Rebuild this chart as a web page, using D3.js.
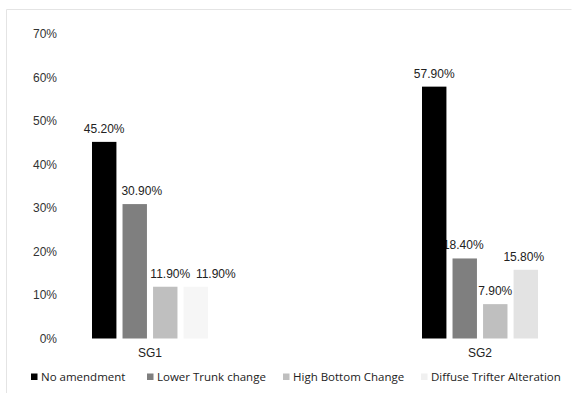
<!DOCTYPE html>
<html>
<head>
<meta charset="utf-8">
<script src="https://cdn.jsdelivr.net/npm/d3@7"></script>
<style>
  body { margin: 0; background: #fff; }
  svg { display: block; }
</style>
</head>
<body>
<svg id="chart"></svg>
<script>
// data
var groups = ["SG1", "SG2"];
var seriesNames = ["No amendment", "Lower Trunk change", "High Bottom Change", "Diffuse Trifter Alteration"];
var sg1Values = [0.452, 0.309, 0.119, 0.119];
var sg2Values = [0.579, 0.184, 0.079, 0.158];
var yTicks = [0, 0.1, 0.2, 0.3, 0.4, 0.5, 0.6, 0.7];

// styling
var colors = ["#000000", "#7f7f7f", "#bfbfbf", "#f6f6f6"];
var lastColorSG2 = "#e3e3e3";
// label nudges so that value labels don't collide (px, per group)
var labelDxSG1 = [0, 7, 5, 20];
var labelDxSG2 = [0, -1.5, 0, -2];

var w = 572, h = 393;
var svg = d3.select("#chart").attr("width", w).attr("height", h);

// light frame of the chart
svg.append("path")
  .attr("d", "M6.5,393 L6.5,9.5 L571.5,9.5")
  .attr("fill", "none")
  .attr("stroke", "#e4e4e4")
  .attr("stroke-width", 1);

var yScale = d3.scaleLinear()
  .domain([0, 0.7])
  .range([338.5, 34]);

var xScale = d3.scaleBand()
  .domain(groups)
  .range([92, 538])
  .paddingInner(0.6485)
  .paddingOuter(0);

var xInner = d3.scaleBand()
  .domain(d3.range(seriesNames.length))
  .range([0, xScale.bandwidth()])
  .paddingInner(0.2)
  .paddingOuter(0);

var yAxis = d3.axisLeft(yScale)
  .tickValues(yTicks)
  .tickFormat(d3.format(".0%"))
  .tickSize(0)
  .tickPadding(0);

var yg = svg.append("g")
  .attr("transform", "translate(57,0)")
  .call(yAxis);
yg.select(".domain").remove();
yg.selectAll("text")
  .attr("font-family", "Liberation Sans, Arial, sans-serif")
  .attr("font-size", "12px")
  .attr("fill", "#333");

var rows = [
  { group: "SG1", values: sg1Values, dx: labelDxSG1 },
  { group: "SG2", values: sg2Values, dx: labelDxSG2 }
];

var barData = [];
rows.forEach(function(r) {
  r.values.forEach(function(v, i) {
    barData.push({ group: r.group, i: i, value: v, dx: r.dx[i] });
  });
});

var fillFor = function(d) {
  if (d.group == "SG2" && d.i == 3) { return lastColorSG2; }
  return colors[d.i];
};

var barLand = svg.append("g").classed("barLand", true);

// labels first, bars on top (the SG2 black bar clips the "1" of 18.40% like the original)
barLand.selectAll("text")
  .data(barData)
  .enter()
  .append("text")
  .attr("x", function(d) { return xScale(d.group) + xInner(d.i) + xInner.bandwidth() / 2 + d.dx; })
  .attr("y", function(d) { return yScale(d.value) - 9; })
  .attr("text-anchor", "middle")
  .attr("font-family", "Liberation Sans, Arial, sans-serif")
  .attr("font-size", "12px")
  .attr("fill", "#222")
  .text(function(d) { return d3.format(".2f")(d.value * 100) + "%"; });

barLand.selectAll("rect")
  .data(barData)
  .enter()
  .append("rect")
  .attr("x", function(d) { return xScale(d.group) + xInner(d.i); })
  .attr("y", function(d) { return yScale(d.value); })
  .attr("width", xInner.bandwidth())
  .attr("height", function(d) { return yScale(0) - yScale(d.value); })
  .attr("fill", fillFor);

// category labels
var xAxis = d3.axisBottom(xScale).tickSize(0).tickPadding(0);
var xg = svg.append("g")
  .attr("transform", "translate(0,348.5)")
  .call(xAxis);
xg.select(".domain").remove();
xg.selectAll("text")
  .attr("font-family", "Liberation Sans, Arial, sans-serif")
  .attr("font-size", "12px")
  .attr("fill", "#222");

// legend
var legendX = [31, 147, 283, 421];
var legend = svg.append("g").classed("legend", true);
var items = legend.selectAll("g")
  .data(seriesNames)
  .enter()
  .append("g")
  .attr("transform", function(d, i) { return "translate(" + legendX[i] + ",373.5)"; });

items.append("rect")
  .attr("width", 6.5)
  .attr("height", 6.5)
  .attr("fill", function(d, i) { return i == 3 ? "#f0f0f0" : colors[i]; });

items.append("text")
  .attr("x", 10)
  .attr("y", 7.5)
  .attr("font-family", "Open Sans, Noto Sans, sans-serif")
  .attr("font-size", "11.5px")
  .attr("fill", "#222")
  .text(function(d) { return d; });
</script>
</body>
</html>
